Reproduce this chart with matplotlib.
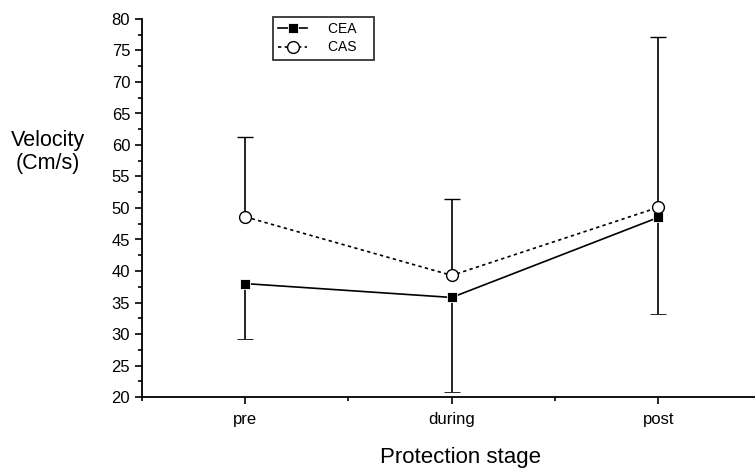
import matplotlib
matplotlib.use("Agg")
import matplotlib.pyplot as plt
from matplotlib.ticker import MultipleLocator
from matplotlib.lines import Line2D

plt.rcParams['font.family'] = ['Liberation Sans', 'DejaVu Sans']

stages = ["pre", "during", "post"]
cea_mean = [38.0, 35.8, 48.5]
cea_lower = [29.2, 20.8, 33.1]
cas_mean = [48.6, 39.3, 50.1]
cas_upper = [61.2, 51.4, 77.2]
series_names = ["CEA", "CAS"]

x = list(range(1, len(stages) + 1))
cea_err = [[m - l for m, l in zip(cea_mean, cea_lower)], [0] * len(stages)]
cas_err = [[0] * len(stages), [u - m for u, m in zip(cas_upper, cas_mean)]]

fig = plt.figure(figsize=(7.55, 4.73), dpi=100)
ax = fig.add_axes([142/755, 76/473, 619.5/755, 378/473])

cea_style = dict(color='black', lw=1.2, ls='-', marker='s', ms=6.5, mfc='black', mec='white', mew=0.6)
cas_style = dict(color='black', lw=1.2, ls=(0, (2, 2)), marker='o', ms=8.5, mfc='white', mec='black', mew=1.0)

_, caps1, _ = ax.errorbar(x, cea_mean, yerr=cea_err, capsize=5.5, elinewidth=1.2, capthick=1.2,
                          zorder=3, **cea_style)
caps1[1].set_visible(False)
_, caps2, _ = ax.errorbar(x, cas_mean, yerr=cas_err, capsize=5.5, elinewidth=1.2, capthick=1.2,
                          zorder=3, **cas_style)
caps2[0].set_visible(False)

ax.set_xlim(0.5, 3.5)
ax.set_ylim(20, 80)
ax.set_xticks(x)
ax.set_xticklabels(stages)
ax.set_xticks([0.5, 1.5, 2.5, 3.5], minor=True)
ax.yaxis.set_major_locator(MultipleLocator(5))
ax.yaxis.set_minor_locator(MultipleLocator(2.5))
ax.tick_params(axis='both', which='major', length=5, width=1.2, labelsize=12, direction='out')
ax.tick_params(axis='both', which='minor', length=3, width=1.2, direction='out')
ax.tick_params(axis='x', pad=6)

for s in ['top', 'right']:
    ax.spines[s].set_visible(False)
for s in ['left', 'bottom']:
    ax.spines[s].set_linewidth(1.3)

fig.text(48/755, 1 - 152/473, "Velocity\n(Cm/s)", ha='center', va='center', fontsize=15.5, linespacing=1.1)
fig.text(460/755, 1 - 457/473, "Protection stage", ha='center', va='center', fontsize=16)

handles = [Line2D([], [], **cea_style), Line2D([], [], **cas_style)]
leg = ax.legend(handles, [n + "   " for n in series_names], loc='upper left',
                bbox_to_anchor=((272.7-142)/619.5, 1 - (16.7-19)/378),
                frameon=True, fancybox=False, edgecolor='black', fontsize=10,
                handlelength=2.1, numpoints=1, borderpad=0.4, labelspacing=0.3,
                handletextpad=1.5, borderaxespad=0)
leg.get_frame().set_linewidth(1.3)

fig.savefig("out.png", dpi=100)
